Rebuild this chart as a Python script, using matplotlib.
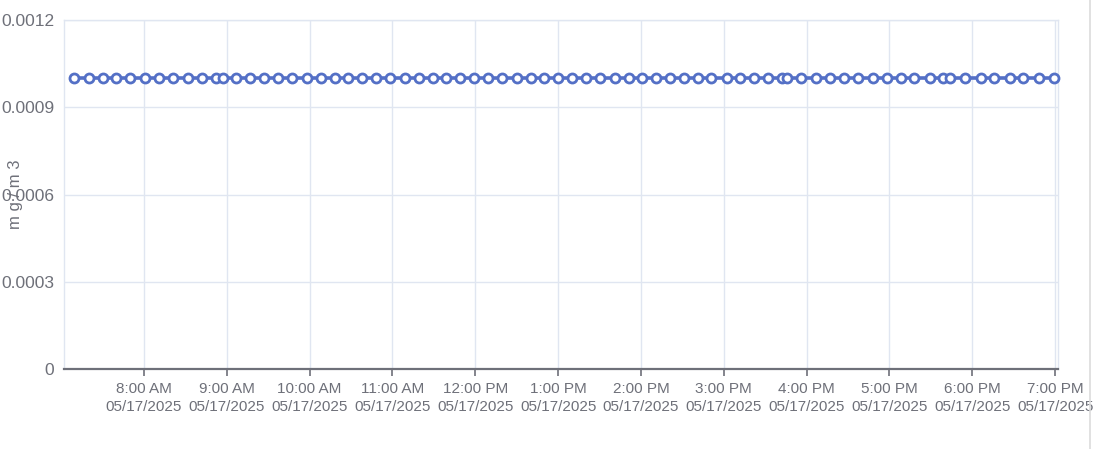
import datetime as dt
import matplotlib
matplotlib.use("Agg")
import matplotlib.pyplot as plt
from matplotlib import font_manager
from matplotlib.lines import Line2D

# pick a condensed font if there is one
font = "DejaVu Sans"
for cand in ["Liberation Sans Narrow", "Liberation Sans"]:
    try:
        font_manager.findfont(cand, fallback_to_default=False)
        font = cand
        break
    except Exception:
        pass
plt.rcParams["font.family"] = [font, "DejaVu Sans"]
narrow = font == "Liberation Sans Narrow"

# data
day = "2025-05-17"
times = [
    "07:09", "07:20", "07:30", "07:40", "07:50", "08:01", "08:11", "08:21",
    "08:32", "08:42", "08:52", "08:57", "09:07", "09:17", "09:27", "09:37",
    "09:47", "09:58", "10:08", "10:18", "10:28", "10:38", "10:48", "10:58",
    "11:09", "11:19", "11:29", "11:39", "11:49", "11:59", "12:09", "12:19",
    "12:30", "12:40", "12:50", "13:00", "13:10", "13:20", "13:30", "13:41",
    "13:51", "14:01", "14:11", "14:21", "14:31", "14:41", "14:51", "15:02",
    "15:12", "15:22", "15:32", "15:42", "15:46", "15:56", "16:07", "16:17",
    "16:27", "16:37", "16:48", "16:58", "17:08", "17:18", "17:29", "17:39",
    "17:44", "17:55", "18:06", "18:16", "18:27", "18:37", "18:48", "18:59",
]
values = [0.001] * len(times)
y_ticks = [0, 0.0003, 0.0006, 0.0009, 0.0012]
y_tick_labels = ["0", "0.0003", "0.0006", "0.0009", "0.0012"]
x_start, x_end = "07:02", "19:02"
unit_label = "m g / m 3"

def ts(hm):
    return dt.datetime.strptime(day + " " + hm, "%Y-%m-%d %H:%M")

x = [ts(t) for t in times]

blue = "#5470c6"
axis_gray = "#6e7079"
grid_col = "#e0e6f1"

fig = plt.figure(figsize=(11.02, 4.49), dpi=100)
ax = fig.add_axes([0.058, 0.178, 0.902, 0.777])

ax.plot(x, values, color=blue, lw=2.6, marker="o", ms=6.5,
        mfc="white", mec=blue, mew=2.0, zorder=3, clip_on=False)

ax.set_ylim(0, 0.0012)
ax.set_xlim(ts(x_start), ts(x_end))
ax.set_yticks(y_ticks)
ax.set_yticklabels(y_tick_labels)

hours = [ts("%02d:00" % h) for h in range(8, 20)]
ax.set_xticks(hours)
ax.set_xticklabels([h.strftime("%-I:%M %p") + "\n" + h.strftime("%m/%d/%Y") for h in hours])

ax.grid(True, color=grid_col, lw=1.0)
ax.set_axisbelow(True)

for s in ["top", "right", "left"]:
    ax.spines[s].set_color(grid_col)
    ax.spines[s].set_linewidth(1.0)
ax.spines["bottom"].set_color(axis_gray)
ax.spines["bottom"].set_linewidth(1.6)
ax.spines["bottom"].set_zorder(4)

ax.tick_params(axis="x", length=5, width=1.2, color=axis_gray, labelcolor=axis_gray,
               labelsize=13.5 if narrow else 11, pad=4)
ax.tick_params(axis="y", length=0, labelcolor=axis_gray,
               labelsize=14.5 if narrow else 12.5, pad=7)
for lab in ax.get_xticklabels():
    lab.set_linespacing(1.4)

ax.set_ylabel(unit_label, color=axis_gray, fontsize=12)
ax.yaxis.set_label_coords(-0.041, 0.5)

# container border on the right
fig.add_artist(Line2D([0.989, 0.989], [0, 1], transform=fig.transFigure,
                      color="#dcdcdc", lw=1.2))

fig.savefig("out.png", dpi=100, facecolor="white")
